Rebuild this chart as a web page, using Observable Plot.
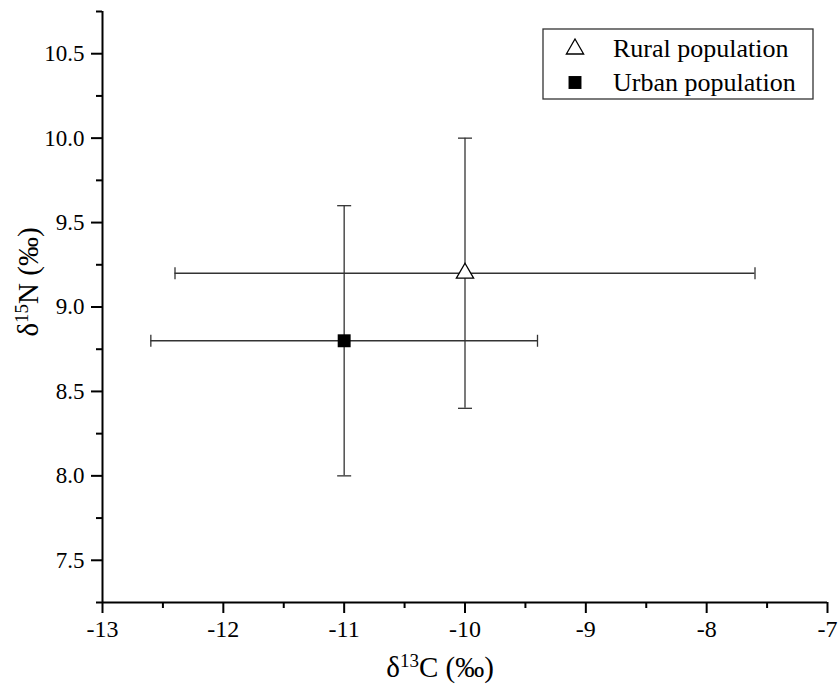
<!DOCTYPE html>
<html>
<head>
<meta charset="utf-8">
<script src="https://cdn.jsdelivr.net/npm/d3@7"></script>
<script src="https://cdn.jsdelivr.net/npm/@observablehq/plot@0.6"></script>
<style>
  html, body { margin: 0; padding: 0; background: #fff; }
  #chart svg { display: block; font-family: "Liberation Serif", "Times New Roman", serif !important; }
  #chart svg text { font-family: "Liberation Serif", "Times New Roman", serif !important; }
</style>
</head>
<body>
<div id="chart"></div>
<script>
// ---- data ----
const groups = ["Rural population", "Urban population"];
const d13C = [-10, -11];
const d15N = [9.2, 8.8];
const sdC = [2.4, 1.6];
const sdN = [0.8, 0.8];
const xTicks = [-13, -12, -11, -10, -9, -8, -7];
const xMinor = [-12.5, -11.5, -10.5, -9.5, -8.5, -7.5];
const yTicks = [7.5, 8.0, 8.5, 9.0, 9.5, 10.0, 10.5];
const yMinor = [7.25, 7.75, 8.25, 8.75, 9.25, 9.75, 10.25, 10.75];

const data = groups.map((g, i) => ({g, c: d13C[i], n: d15N[i], sc: sdC[i], sn: sdN[i]}));
const rural = data.filter(d => d.g === groups[0]);
const urban = data.filter(d => d.g === groups[1]);

const FONT = '"Liberation Serif", "Times New Roman", serif';
const vcap = {draw(ctx, size) { const r = Math.sqrt(size / Math.PI); ctx.moveTo(0, -r); ctx.lineTo(0, r); }};
const hcap = {draw(ctx, size) { const r = Math.sqrt(size / Math.PI); ctx.moveTo(-r, 0); ctx.lineTo(r, 0); }};
const EB = "#333";

const plot = Plot.plot({
  width: 838,
  height: 687,
  marginLeft: 102,
  marginRight: 11,
  marginTop: 11,
  marginBottom: 85,
  style: {background: "#fff", color: "#000"},
  x: {domain: [-13, -7], label: null},
  y: {domain: [7.25, 10.75], label: null},
  marks: [
    // error bars
    Plot.ruleY(data, {y: "n", x1: d => d.c - d.sc, x2: d => d.c + d.sc, stroke: EB, strokeWidth: 1.3}),
    Plot.ruleX(data, {x: "c", y1: d => d.n - d.sn, y2: d => d.n + d.sn, stroke: EB, strokeWidth: 1.3}),
    Plot.dot(data, {x: d => d.c - d.sc, y: "n", symbol: vcap, r: 6, stroke: EB, fill: "none", strokeWidth: 1.3}),
    Plot.dot(data, {x: d => d.c + d.sc, y: "n", symbol: vcap, r: 6, stroke: EB, fill: "none", strokeWidth: 1.3}),
    Plot.dot(data, {x: "c", y: d => d.n - d.sn, symbol: hcap, r: 7, stroke: EB, fill: "none", strokeWidth: 1.3}),
    Plot.dot(data, {x: "c", y: d => d.n + d.sn, symbol: hcap, r: 7, stroke: EB, fill: "none", strokeWidth: 1.3}),
    // markers
    Plot.dot(rural, {x: "c", y: "n", symbol: "triangle", r: 6.4, fill: "white", stroke: "black", strokeWidth: 1.3}),
    Plot.dot(urban, {x: "c", y: "n", symbol: "square", r: 7.3, fill: "black", stroke: "none"}),
    // axes
    Plot.axisX({ticks: xTicks, tickSize: 11, tickPadding: 6, fontSize: 24, fontFamily: FONT, tickFormat: d => String(d), strokeWidth: 2, label: null}),
    Plot.axisX({ticks: xMinor, tickSize: 6, tickFormat: () => "", strokeWidth: 2, label: null}),
    Plot.axisY({ticks: yTicks, tickSize: 11, tickPadding: 7, fontSize: 23, fontFamily: FONT, tickFormat: d3.format(".1f"), strokeWidth: 2, label: null}),
    Plot.axisY({ticks: yMinor, tickSize: 6, tickFormat: () => "", strokeWidth: 2, label: null}),
    Plot.ruleX([-13], {strokeWidth: 2}),
    Plot.ruleY([7.25], {strokeWidth: 2})
  ]
});

const svg = d3.select(plot);

// axis titles
const xt = svg.append("text")
  .attr("x", 440).attr("y", 677)
  .attr("text-anchor", "middle")
  .attr("font-size", 29).attr("fill", "#000");
xt.append("tspan").text("δ");
xt.append("tspan").attr("font-size", 19).attr("dy", -10).text("13");
xt.append("tspan").attr("dy", 10).text("C (‰)");

const yt = svg.append("text")
  .attr("transform", "translate(38,282) rotate(-90)")
  .attr("text-anchor", "middle")
  .attr("font-size", 29).attr("fill", "#000");
yt.append("tspan").text("δ");
yt.append("tspan").attr("font-size", 19).attr("dy", -10).text("15");
yt.append("tspan").attr("dy", 10).text("N (‰)");

// legend
const lg = svg.append("g").attr("font-size", 26).attr("text-anchor", "start");
lg.append("rect").attr("x", 543).attr("y", 29).attr("width", 270).attr("height", 70)
  .attr("fill", "white").attr("stroke", "#333").attr("stroke-width", 1.3);
lg.append("path").attr("transform", "translate(575,49)")
  .attr("d", d3.symbol(d3.symbolTriangle, 6.4 * 6.4 * Math.PI)())
  .attr("fill", "white").attr("stroke", "black").attr("stroke-width", 1.3);
lg.append("path").attr("transform", "translate(575,82.5)")
  .attr("d", d3.symbol(d3.symbolSquare, 7.3 * 7.3 * Math.PI)())
  .attr("fill", "black");
lg.append("text").attr("x", 613).attr("y", 57).attr("text-anchor", "start").text(groups[0]);
lg.append("text").attr("x", 613).attr("y", 91).attr("text-anchor", "start").text(groups[1]);

// force serif font on every text element
svg.selectAll("g, text, tspan").attr("font-family", FONT).style("font-family", FONT, "important");
svg.attr("font-family", FONT).style("font-family", FONT, "important");

document.getElementById("chart").appendChild(plot);
</script>
</body>
</html>
